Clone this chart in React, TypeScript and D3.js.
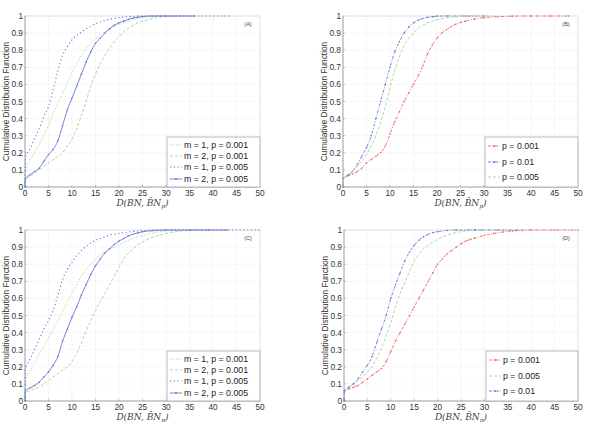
import * as d3 from 'd3';

type Pt = [number, number];

// tick values
const xTicks = [0, 5, 10, 15, 20, 25, 30, 35, 40, 45, 50];
const yTicks = [0, 0.1, 0.2, 0.3, 0.4, 0.5, 0.6, 0.7, 0.8, 0.9, 1];
const yTickLabels = ['0', '0.1', '0.2', '0.3', '0.4', '0.5', '0.6', '0.7', '0.8', '0.9', '1'];

// Panel (A)
const aM1P001: Pt[] = [[0, 0], [0.1, 0.1], [1, 0.15], [2, 0.2], [3, 0.25], [4, 0.3], [5, 0.36], [6, 0.43], [7, 0.49], [8, 0.55], [9, 0.61], [10, 0.67], [11, 0.72], [12, 0.77], [13, 0.81], [14, 0.84], [15, 0.87], [16, 0.89], [17, 0.91], [18, 0.925], [19, 0.94], [20, 0.95], [22, 0.97], [24, 0.985], [26, 0.993], [28, 0.998], [30, 1]];
const aM2P001: Pt[] = [[0, 0], [0.1, 0.05], [1, 0.06], [2, 0.08], [3, 0.1], [4, 0.12], [5, 0.14], [6, 0.16], [7, 0.18], [8, 0.2], [9, 0.24], [10, 0.28], [11, 0.34], [12, 0.42], [13, 0.5], [14, 0.59], [15, 0.66], [16, 0.72], [17, 0.77], [18, 0.81], [19, 0.85], [20, 0.88], [21, 0.91], [22, 0.93], [23, 0.945], [24, 0.96], [25, 0.97], [26, 0.978], [28, 0.99], [30, 0.997], [32, 1]];
const aM1P005: Pt[] = [[0, 0], [0.1, 0.17], [1, 0.22], [2, 0.28], [3, 0.34], [4, 0.41], [5, 0.47], [6, 0.57], [7, 0.68], [8, 0.77], [9, 0.82], [10, 0.86], [11, 0.885], [12, 0.905], [13, 0.925], [14, 0.94], [15, 0.955], [16, 0.965], [17, 0.975], [18, 0.982], [20, 0.99], [22, 0.996], [25, 1], [30, 1], [35, 1], [40, 1], [44, 1]];
const aM2P005: Pt[] = [[0, 0], [0.1, 0.05], [1, 0.07], [2, 0.09], [3, 0.11], [4, 0.15], [5, 0.19], [6, 0.22], [7, 0.27], [8, 0.36], [9, 0.45], [10, 0.52], [11, 0.59], [12, 0.66], [13, 0.73], [14, 0.79], [15, 0.84], [16, 0.87], [17, 0.9], [18, 0.925], [19, 0.945], [20, 0.96], [21, 0.97], [22, 0.98], [23, 0.988], [24, 0.993], [25, 0.997], [27, 1], [30, 1], [33, 1], [36, 1]];

// Panel (B)
const bP001: Pt[] = [[0, 0], [0.1, 0.05], [1, 0.065], [2, 0.075], [3, 0.09], [4, 0.11], [5, 0.14], [6, 0.16], [7, 0.18], [8, 0.2], [9, 0.24], [10, 0.31], [11, 0.38], [12, 0.44], [13, 0.5], [14, 0.55], [15, 0.6], [16, 0.65], [17, 0.71], [18, 0.78], [19, 0.83], [20, 0.87], [21, 0.9], [22, 0.92], [23, 0.938], [24, 0.952], [25, 0.962], [26, 0.97], [28, 0.982], [30, 0.99], [33, 0.996], [36, 0.999], [40, 1], [44, 1], [48, 1]];
const bP01: Pt[] = [[0, 0], [0.1, 0.05], [1, 0.07], [2, 0.09], [3, 0.13], [4, 0.18], [5, 0.23], [6, 0.3], [7, 0.4], [8, 0.5], [9, 0.6], [10, 0.7], [11, 0.79], [12, 0.85], [13, 0.9], [14, 0.935], [15, 0.96], [16, 0.975], [17, 0.985], [18, 0.992], [19, 0.996], [20, 0.999], [22, 1], [26, 1], [30, 1]];
const bP005: Pt[] = [[0, 0], [0.1, 0.05], [1, 0.07], [2, 0.09], [3, 0.12], [4, 0.15], [5, 0.19], [6, 0.24], [7, 0.3], [8, 0.38], [9, 0.47], [10, 0.58], [11, 0.68], [12, 0.76], [13, 0.83], [14, 0.87], [15, 0.9], [16, 0.93], [17, 0.945], [18, 0.96], [19, 0.97], [20, 0.978], [22, 0.99], [24, 0.996], [26, 1], [29, 1], [32, 1]];

// Panel (C)
const cM1P001: Pt[] = [[0, 0], [0.1, 0.12], [1, 0.17], [2, 0.22], [3, 0.27], [4, 0.32], [5, 0.37], [6, 0.42], [7, 0.47], [8, 0.52], [9, 0.58], [10, 0.63], [11, 0.68], [12, 0.73], [13, 0.77], [14, 0.8], [15, 0.83], [16, 0.855], [17, 0.875], [18, 0.89], [19, 0.9], [20, 0.915], [22, 0.94], [24, 0.96], [26, 0.975], [28, 0.987], [30, 0.995], [33, 1]];
const cM2P001: Pt[] = [[0, 0], [0.1, 0.05], [1, 0.06], [2, 0.07], [3, 0.08], [4, 0.1], [5, 0.12], [6, 0.14], [7, 0.16], [8, 0.18], [9, 0.2], [10, 0.23], [11, 0.28], [12, 0.34], [13, 0.41], [14, 0.47], [15, 0.53], [16, 0.58], [17, 0.63], [18, 0.68], [19, 0.73], [20, 0.78], [21, 0.83], [22, 0.865], [23, 0.89], [24, 0.915], [25, 0.93], [26, 0.945], [28, 0.965], [30, 0.98], [32, 0.99], [35, 0.997], [38, 1]];
const cM1P005: Pt[] = [[0, 0], [0.1, 0.19], [1, 0.24], [2, 0.3], [3, 0.36], [4, 0.42], [5, 0.47], [6, 0.53], [7, 0.62], [8, 0.71], [9, 0.77], [10, 0.81], [11, 0.85], [12, 0.88], [13, 0.905], [14, 0.925], [15, 0.94], [16, 0.95], [17, 0.96], [18, 0.97], [20, 0.98], [22, 0.988], [24, 0.994], [26, 0.997], [28, 1], [34, 1], [40, 1], [45, 1], [50, 1]];
const cM2P005: Pt[] = [[0, 0], [0.1, 0.06], [1, 0.075], [2, 0.09], [3, 0.11], [4, 0.14], [5, 0.17], [6, 0.21], [7, 0.26], [8, 0.35], [9, 0.42], [10, 0.49], [11, 0.55], [12, 0.62], [13, 0.68], [14, 0.74], [15, 0.79], [16, 0.83], [17, 0.865], [18, 0.89], [19, 0.915], [20, 0.935], [21, 0.95], [22, 0.965], [23, 0.975], [24, 0.983], [25, 0.99], [27, 0.996], [30, 1], [35, 1], [39, 1], [43, 1]];

// Panel (D)
const dP001: Pt[] = [[0, 0], [0.1, 0.06], [1, 0.07], [2, 0.08], [3, 0.09], [4, 0.11], [5, 0.13], [6, 0.15], [7, 0.17], [8, 0.19], [9, 0.23], [10, 0.29], [11, 0.35], [12, 0.4], [13, 0.45], [14, 0.5], [15, 0.55], [16, 0.6], [17, 0.65], [18, 0.7], [19, 0.75], [20, 0.8], [21, 0.83], [22, 0.86], [23, 0.88], [24, 0.9], [25, 0.92], [26, 0.935], [27, 0.945], [28, 0.953], [30, 0.968], [32, 0.98], [34, 0.988], [36, 0.994], [38, 0.998], [40, 1], [45, 1], [50, 1]];
const dP005: Pt[] = [[0, 0], [0.1, 0.06], [1, 0.08], [2, 0.1], [3, 0.12], [4, 0.14], [5, 0.17], [6, 0.2], [7, 0.25], [8, 0.31], [9, 0.38], [10, 0.46], [11, 0.55], [12, 0.63], [13, 0.69], [14, 0.76], [15, 0.82], [16, 0.86], [17, 0.89], [18, 0.91], [19, 0.93], [20, 0.945], [21, 0.96], [22, 0.97], [24, 0.985], [26, 0.995], [28, 1], [30, 1]];
const dP01: Pt[] = [[0, 0], [0.1, 0.06], [1, 0.08], [2, 0.1], [3, 0.13], [4, 0.17], [5, 0.21], [6, 0.26], [7, 0.34], [8, 0.42], [9, 0.5], [10, 0.6], [11, 0.68], [12, 0.75], [13, 0.82], [14, 0.87], [15, 0.91], [16, 0.94], [17, 0.96], [18, 0.975], [19, 0.985], [20, 0.99], [22, 0.997], [24, 1], [28, 1], [33, 1], [37, 1]];

const BLUE = '#6677d8';
const GREEN = '#a8d9a0';
const RED = '#f26464';

interface Series {
  label: string;
  data: Pt[];
  color: string;
  dash: string;
  dots: boolean;
  width: number;
}

interface PanelProps {
  left: number;
  top: number;
  width: number;
  height: number;
  tag: string;
  series: Series[];
  legendRows: number[];
  legendWidth: number;
}

const seriesAC = (d: Pt[][]): Series[] => [
  { label: 'm = 1, p = 0.001', data: d[0], color: GREEN, dash: '1.2,1.6', dots: false, width: 1 },
  { label: 'm = 2, p = 0.001', data: d[1], color: GREEN, dash: '3,2', dots: false, width: 1 },
  { label: 'm = 1, p = 0.005', data: d[2], color: BLUE, dash: '1.2,2.6', dots: false, width: 1.1 },
  { label: 'm = 2, p = 0.005', data: d[3], color: BLUE, dash: '', dots: true, width: 0.9 },
];

const Panel = ({ left, top, width, height, tag, series, legendRows, legendWidth }: PanelProps) => {
  const x = d3.scaleLinear().domain([0, 50]).range([left, left + width]);
  const y = d3.scaleLinear().domain([0, 1]).range([top + height, top]);
  const line = d3.line<Pt>().x(d => x(d[0])).y(d => y(d[1])).curve(d3.curveMonotoneX);
  const bottom = top + height;
  const right = left + width;
  const lgTop = bottom - 50;
  const lgLeft = right - legendWidth;
  const font = 'Liberation Sans, Arial, sans-serif';

  return (
    <g>
      {/* grid */}
      {xTicks.slice(1, -1).map(t => (
        <line key={'gx' + t} x1={x(t)} x2={x(t)} y1={top} y2={bottom} stroke="#e2e2e2" strokeWidth={0.6} strokeDasharray="1,1" />
      ))}
      {yTicks.slice(1, -1).map(t => (
        <line key={'gy' + t} x1={left} x2={right} y1={y(t)} y2={y(t)} stroke="#e2e2e2" strokeWidth={0.6} strokeDasharray="1,1" />
      ))}
      <rect x={left} y={top} width={width} height={height} fill="none" stroke="#d8d8d8" strokeWidth={0.8} />
      <line x1={left} x2={left} y1={top} y2={bottom} stroke="#9a9aa8" strokeWidth={0.8} />
      <line x1={left} x2={right} y1={bottom} y2={bottom} stroke="#9a9aa8" strokeWidth={0.8} />
      {xTicks.map(t => (
        <g key={'tx' + t}>
          <line x1={x(t)} x2={x(t)} y1={bottom} y2={bottom - 2} stroke="#9a9aa8" strokeWidth={0.6} />
          <text x={x(t)} y={bottom + 9} fontSize={8.3} fontFamily={font} textAnchor="middle" fill="#333">{t}</text>
        </g>
      ))}
      {yTicks.map((t, i) => (
        <g key={'ty' + t}>
          <line x1={left} x2={left + 2} y1={y(t)} y2={y(t)} stroke="#9a9aa8" strokeWidth={0.6} />
          <text x={left - 2} y={y(t) + 3} fontSize={8.3} fontFamily={font} textAnchor="end" fill="#333">{yTickLabels[i]}</text>
        </g>
      ))}
      <text
        transform={`translate(${left - 16},${top + height / 2}) rotate(-90)`}
        fontSize={8.3}
        fontFamily={font}
        textAnchor="middle"
        fill="#333"
      >
        Cumulative Distribution Function
      </text>
      <text x={left + width / 2} y={bottom + 19} fontSize={9} fontFamily="DejaVu Serif, serif" fontStyle="italic" textAnchor="middle" fill="#444">
        D(BN, B̂N<tspan fontSize={6} dy={2}>p</tspan><tspan dy={-2}>)</tspan>
      </text>
      <text x={right - 12} y={top + 10} fontSize={5.5} fontFamily={font} textAnchor="middle" fill="#444">{tag}</text>

      {/* curves */}
      {series.map(s => (
        <g key={s.label}>
          <path d={line(s.data) || ''} fill="none" stroke={s.color} strokeWidth={s.width} strokeDasharray={s.dash || undefined} />
          {s.dots && s.data.map((d, i) => (
            <circle key={i} cx={x(d[0])} cy={y(d[1])} r={0.8} fill={s.color} />
          ))}
        </g>
      ))}

      {/* legend */}
      <rect x={lgLeft} y={lgTop} width={legendWidth} height={50} fill="#fff" stroke="#aaa" strokeWidth={0.8} />
      {series.map((s, i) => {
        const yy = bottom + legendRows[i];
        return (
          <g key={'lg' + s.label}>
            <line x1={lgLeft + 3} x2={lgLeft + 15} y1={yy} y2={yy} stroke={s.color} strokeWidth={s.width} strokeDasharray={s.dash || undefined} />
            {s.dots && <circle cx={lgLeft + 9} cy={yy} r={1} fill={s.color} />}
            <text x={lgLeft + 17} y={yy + 3} fontSize={8.8} fontFamily={font} fill="#222">{s.label}</text>
          </g>
        );
      })}
    </g>
  );
};

const App = () => {
  const acRows = [-42, -31, -20, -8];
  const bdRows = [-41, -25, -10];
  const seriesB: Series[] = [
    { label: 'p = 0.001', data: bP001, color: RED, dash: '3,1.5,1,1.5', dots: true, width: 0.9 },
    { label: 'p = 0.01', data: bP01, color: BLUE, dash: '3,1.5,1,1.5', dots: true, width: 0.9 },
    { label: 'p = 0.005', data: bP005, color: GREEN, dash: '3,2', dots: false, width: 1 },
  ];
  const seriesD: Series[] = [
    { label: 'p = 0.001', data: dP001, color: RED, dash: '3,1.5,1,1.5', dots: true, width: 0.9 },
    { label: 'p = 0.005', data: dP005, color: GREEN, dash: '3,2', dots: false, width: 1 },
    { label: 'p = 0.01', data: dP01, color: BLUE, dash: '3,1.5,1,1.5', dots: true, width: 0.9 },
  ];
  return (
    <svg width={600} height={422} style={{ position: 'absolute', left: 0, top: 0, background: '#fff' }}>
      <Panel left={25} top={16} width={235} height={171} tag="(A)" series={seriesAC([aM1P001, aM2P001, aM1P005, aM2P005])} legendRows={acRows} legendWidth={93} />
      <Panel left={343} top={16} width={235} height={171} tag="(B)" series={seriesB} legendRows={bdRows} legendWidth={93} />
      <Panel left={25} top={230} width={235} height={171} tag="(C)" series={seriesAC([cM1P001, cM2P001, cM1P005, cM2P005])} legendRows={acRows} legendWidth={93} />
      <Panel left={344} top={230} width={234} height={171} tag="(D)" series={seriesD} legendRows={bdRows} legendWidth={92} />
    </svg>
  );
};

export default App;
